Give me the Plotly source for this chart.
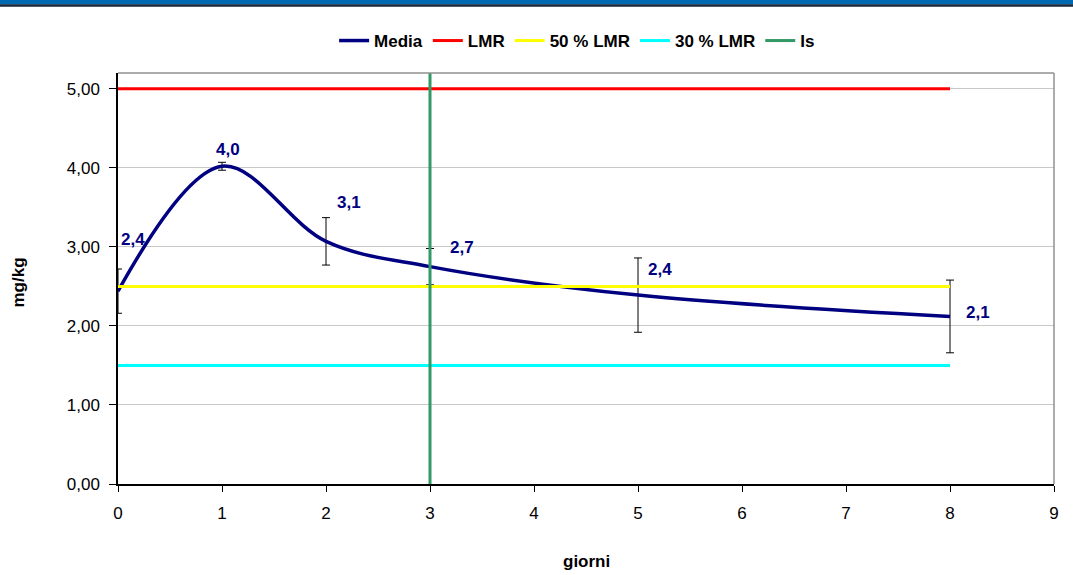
import plotly.graph_objects as go

# Data
giorni = [0, 1, 2, 3, 5, 8]
media = [2.44, 4.02, 3.07, 2.75, 2.39, 2.12]
err = [0.28, 0.05, 0.30, 0.23, 0.47, 0.46]
labels = ["2,4", "4,0", "3,1", "2,7", "2,4", "2,1"]
label_shift_x = [15, 6, 23, 32, 22, 28]
label_shift_y = [52, 17, 39, 19, 26, 4]

lmr_x = [0, 8]
lmr = 5.0
lmr50 = 2.5
lmr30 = 1.5
is_x = 3
y_max = 5.2

FONT = "Liberation Sans, Arial, sans-serif"
L, R, T, B = 118, 19, 73, 91
W, H = 1073, 575
PH = H - T - B

fig = go.Figure()

fig.add_trace(go.Scatter(
    x=giorni, y=media, name="Media", mode="lines",
    line=dict(color="#000080", width=3.5, shape="spline", smoothing=1.0),
    error_y=dict(type="data", array=err, visible=True, color="black", thickness=1, width=4),
))
fig.add_trace(go.Scatter(x=lmr_x, y=[lmr, lmr], name="LMR", mode="lines",
                         line=dict(color="#ff0000", width=3)))
fig.add_trace(go.Scatter(x=lmr_x, y=[lmr50, lmr50], name="50 % LMR", mode="lines",
                         line=dict(color="#ffff00", width=3)))
fig.add_trace(go.Scatter(x=lmr_x, y=[lmr30, lmr30], name="30 % LMR", mode="lines",
                         line=dict(color="#00ffff", width=3)))
fig.add_trace(go.Scatter(x=[is_x, is_x], y=[0, y_max], name="Is", mode="lines",
                         line=dict(color="#339966", width=3)))

for x, y, t, sx, sy in zip(giorni, media, labels, label_shift_x, label_shift_y):
    fig.add_annotation(x=x, y=y, text="<b>%s</b>" % t, showarrow=False,
                       xshift=sx, yshift=sy,
                       font=dict(family=FONT, size=17, color="#000080"))

# axis titles
fig.add_annotation(xref="paper", yref="paper", x=0.5, y=0, yshift=-77,
                   text="<b>giorni</b>", showarrow=False, yanchor="middle",
                   font=dict(family=FONT, size=17, color="black"))
fig.add_annotation(xref="paper", yref="paper", x=0, xshift=-100, y=0.5, yshift=-4,
                   text="<b>mg/kg</b>", showarrow=False, textangle=-90,
                   xanchor="center", yanchor="middle",
                   font=dict(family=FONT, size=17, color="black"))

# top banner
def py(px):
    return 1 + (T - px) / PH

fig.add_shape(type="rect", xref="paper", yref="paper", x0=-0.2, x1=1.1,
              y0=py(4.5), y1=py(-10), fillcolor="#0069b4", line_width=0, layer="above")
fig.add_shape(type="line", xref="paper", yref="paper", x0=-0.2, x1=1.1,
              y0=py(5.5), y1=py(5.5), line=dict(color="#1a2a3a", width=2.5))

fig.update_layout(
    width=W, height=H,
    margin=dict(l=L, r=R, t=T, b=B, autoexpand=False),
    paper_bgcolor="white", plot_bgcolor="white",
    separators=",.",
    font=dict(family=FONT, size=17, color="black"),
    showlegend=True,
    legend=dict(orientation="h", x=0.4905, xanchor="center", y=py(41), yanchor="middle",
                font=dict(family=FONT, size=17, color="black", weight="bold"),
                itemwidth=30, tracegroupgap=0),
    xaxis=dict(range=[0, 9], dtick=1, tick0=0, showgrid=False, zeroline=False,
               showline=True, linecolor="black", linewidth=1.5, ticks="outside",
               ticklen=6, tickcolor="black", automargin=False, ticklabelstandoff=7,
               tickfont=dict(family=FONT, size=17, color="black")),
    yaxis=dict(range=[0, y_max], tickvals=[0, 1, 2, 3, 4, 5], tickformat=".2f",
               showgrid=True, gridcolor="#c8c8c8", gridwidth=1, zeroline=False,
               showline=True, linecolor="black", linewidth=1.5, ticks="outside",
               ticklen=7, tickcolor="black", automargin=False, ticklabelstandoff=6,
               tickfont=dict(family=FONT, size=17, color="black")),
)

# right/top grey border
fig.add_shape(type="line", xref="paper", yref="paper", x0=0, x1=1, y0=1, y1=1,
              line=dict(color="#909090", width=1.5))
fig.add_shape(type="line", xref="paper", yref="paper", x0=1, x1=1, y0=0, y1=1,
              line=dict(color="#909090", width=1.5))

fig.write_html("out.html", config={"displayModeBar": False},
               post_script="document.body.style.margin='0px';document.body.style.overflow='hidden';")
